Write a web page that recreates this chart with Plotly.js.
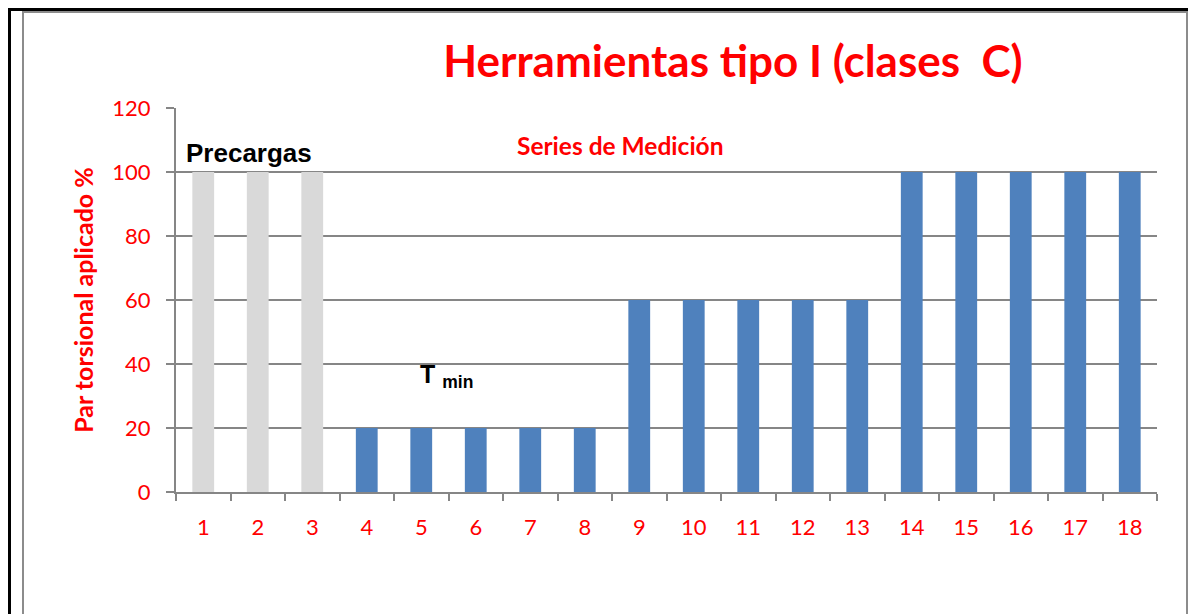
<!DOCTYPE html>
<html>
<head>
<meta charset="utf-8">
<script src="https://cdn.plot.ly/plotly-3.0.1.min.js"></script>
<style>
  html, body { margin: 0; padding: 0; background: #fff; }
  #wrap { position: relative; width: 1188px; height: 614px; overflow: hidden; }
  #chart { position: absolute; left: 0; top: 0; width: 1188px; height: 614px; }
  #outer { position: absolute; left: 8px; top: 8px; width: 1200px; height: 700px; border-left: 3px solid #000; border-top: 3px solid #000; pointer-events: none; }
  #inner { position: absolute; left: 22px; top: 11px; width: 1162px; height: 700px; border: 2px solid #8c8c8c; pointer-events: none; }
</style>
</head>
<body>
<div id="wrap">
  <div id="chart"></div>
  <div id="outer"></div>
  <div id="inner"></div>
</div>
<script>
const categories = ["1","2","3","4","5","6","7","8","9","10","11","12","13","14","15","16","17","18"];
const values = [100,100,100,20,20,20,20,20,60,60,60,60,60,100,100,100,100,100];
const preloadCount = 3;
const barColors = categories.map((c, i) => i < preloadCount ? "#D9D9D9" : "#4F81BD");
const yTicks = [0,20,40,60,80,100,120];

const trace = {
  type: "bar",
  x: categories,
  y: values,
  marker: { color: barColors, line: { width: 0 } },
  hoverinfo: "x+y"
};

const layout = {
  width: 1188,
  height: 614,
  margin: { l: 176, r: 31, t: 108, b: 122 },
  paper_bgcolor: "#ffffff",
  plot_bgcolor: "#ffffff",
  bargap: 0.6,
  showlegend: false,
  title: {
    text: "Herramientas tipo I (clases  C)",
    font: { family: "Lato", size: 44, color: "#FF0000", weight: 700 },
    x: 0.617, xanchor: "center",
    y: 0.899, yanchor: "middle", yref: "container"
  },
  xaxis: {
    type: "category",
    tickson: "boundaries",
    ticks: "outside",
    ticklen: 7,
    tickwidth: 2,
    tickcolor: "#868686",
    showline: true,
    linecolor: "#868686",
    linewidth: 2,
    showgrid: false,
    tickfont: { family: "Lato", size: 22, color: "#FF0000" },
    ticklabelstandoff: 15
  },
  yaxis: {
    range: [0, 120],
    tickvals: yTicks,
    ticktext: yTicks.map(String),
    ticks: "outside",
    ticklen: 8,
    tickwidth: 2,
    tickcolor: "#868686",
    showline: true,
    linecolor: "#868686",
    linewidth: 2,
    showgrid: true,
    gridcolor: "#868686",
    gridwidth: 2,
    zeroline: false,
    tickfont: { family: "Lato", size: 22, color: "#FF0000" },
    ticklabelstandoff: 11,
    title: {
      text: "Par torsional aplicado %",
      font: { family: "Lato", size: 25, color: "#FF0000", weight: 700 },
      standoff: 12
    }
  },
  annotations: [
    { text: "Precargas", xref: "paper", yref: "y", x: 0.008, y: 105.9, xanchor: "left", yanchor: "middle", showarrow: false,
      font: { family: "Liberation Sans", size: 26, color: "#000000", weight: 700 } },
    { text: "Series de Medición", xref: "paper", yref: "y", x: 0.4536, y: 108.4, xanchor: "center", yanchor: "middle", showarrow: false,
      font: { family: "Lato", size: 24.5, color: "#FF0000", weight: 700 } },
    { text: "T <sub>min</sub>", xref: "paper", yref: "y", x: 0.247, y: 36.2, xanchor: "left", yanchor: "middle", showarrow: false,
      font: { family: "Liberation Sans", size: 25, color: "#000000", weight: 700 } }
  ]
};

Plotly.newPlot("chart", [trace], layout, { displayModeBar: false, staticPlot: true });
</script>
</body>
</html>
